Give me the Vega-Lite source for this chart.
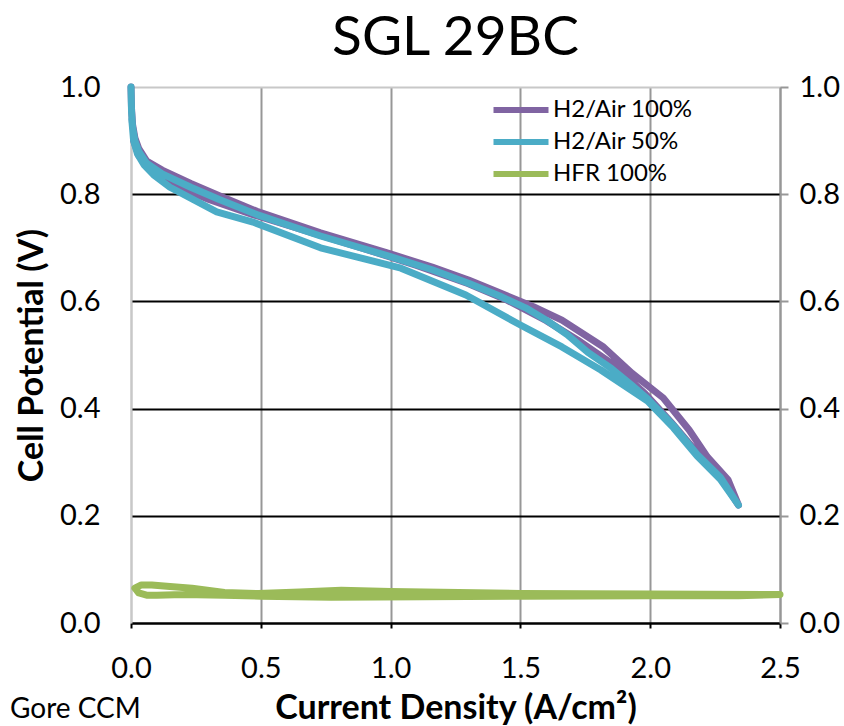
{
  "$schema": "https://vega.github.io/schema/vega-lite/v6.json",
  "width": 649,
  "height": 536,
  "autosize": {"type": "none"},
  "padding": {"left": 131, "top": 87, "right": 64, "bottom": 103},
  "background": "white",
  "title": {"text": "SGL 29BC", "font": "Lato", "fontSize": 55, "fontWeight": "normal", "color": "black", "anchor": "middle", "offset": 6},
  "config": {"view": {"stroke": null}, "font": "Lato"},
  "datasets": {
    "pol": [
      {"series": "H2/Air 100%", "i": 1, "j": 0, "v": 1.0},
      {"series": "H2/Air 100%", "i": 2, "j": 0.002, "v": 0.96},
      {"series": "H2/Air 100%", "i": 3, "j": 0.006, "v": 0.93},
      {"series": "H2/Air 100%", "i": 4, "j": 0.015, "v": 0.905},
      {"series": "H2/Air 100%", "i": 5, "j": 0.03, "v": 0.885},
      {"series": "H2/Air 100%", "i": 6, "j": 0.06, "v": 0.862},
      {"series": "H2/Air 100%", "i": 7, "j": 0.12, "v": 0.845},
      {"series": "H2/Air 100%", "i": 8, "j": 0.23, "v": 0.82},
      {"series": "H2/Air 100%", "i": 9, "j": 0.34, "v": 0.797},
      {"series": "H2/Air 100%", "i": 10, "j": 0.485, "v": 0.768},
      {"series": "H2/Air 100%", "i": 11, "j": 0.73, "v": 0.728},
      {"series": "H2/Air 100%", "i": 12, "j": 0.99, "v": 0.69},
      {"series": "H2/Air 100%", "i": 13, "j": 1.16, "v": 0.664},
      {"series": "H2/Air 100%", "i": 14, "j": 1.3, "v": 0.64},
      {"series": "H2/Air 100%", "i": 15, "j": 1.42, "v": 0.616},
      {"series": "H2/Air 100%", "i": 16, "j": 1.55, "v": 0.59},
      {"series": "H2/Air 100%", "i": 17, "j": 1.66, "v": 0.565},
      {"series": "H2/Air 100%", "i": 18, "j": 1.82, "v": 0.515},
      {"series": "H2/Air 100%", "i": 19, "j": 1.93, "v": 0.466},
      {"series": "H2/Air 100%", "i": 20, "j": 2.05, "v": 0.42},
      {"series": "H2/Air 100%", "i": 21, "j": 2.15, "v": 0.36},
      {"series": "H2/Air 100%", "i": 22, "j": 2.22, "v": 0.31},
      {"series": "H2/Air 100%", "i": 23, "j": 2.3, "v": 0.267},
      {"series": "H2/Air 100%", "i": 24, "j": 2.34, "v": 0.22},
      {"series": "H2/Air 100%", "i": 25, "j": 2.28, "v": 0.265},
      {"series": "H2/Air 100%", "i": 26, "j": 2.18, "v": 0.318},
      {"series": "H2/Air 100%", "i": 27, "j": 2.08, "v": 0.375},
      {"series": "H2/Air 100%", "i": 28, "j": 1.98, "v": 0.428},
      {"series": "H2/Air 100%", "i": 29, "j": 1.85, "v": 0.485},
      {"series": "H2/Air 100%", "i": 30, "j": 1.72, "v": 0.528},
      {"series": "H2/Air 100%", "i": 31, "j": 1.6, "v": 0.564},
      {"series": "H2/Air 100%", "i": 32, "j": 1.45, "v": 0.602},
      {"series": "H2/Air 100%", "i": 33, "j": 1.3, "v": 0.633},
      {"series": "H2/Air 100%", "i": 34, "j": 1.1, "v": 0.667},
      {"series": "H2/Air 100%", "i": 35, "j": 0.9, "v": 0.698},
      {"series": "H2/Air 100%", "i": 36, "j": 0.7, "v": 0.728},
      {"series": "H2/Air 100%", "i": 37, "j": 0.47, "v": 0.762},
      {"series": "H2/Air 100%", "i": 38, "j": 0.3, "v": 0.79},
      {"series": "H2/Air 100%", "i": 39, "j": 0.15, "v": 0.82},
      {"series": "H2/Air 100%", "i": 40, "j": 0.07, "v": 0.848},
      {"series": "H2/Air 100%", "i": 41, "j": 0.03, "v": 0.872},
      {"series": "H2/Air 100%", "i": 42, "j": 0.01, "v": 0.9},
      {"series": "H2/Air 50%", "i": 1, "j": 0, "v": 1.0},
      {"series": "H2/Air 50%", "i": 2, "j": 0.002, "v": 0.955},
      {"series": "H2/Air 50%", "i": 3, "j": 0.006, "v": 0.925},
      {"series": "H2/Air 50%", "i": 4, "j": 0.015, "v": 0.9},
      {"series": "H2/Air 50%", "i": 5, "j": 0.03, "v": 0.88},
      {"series": "H2/Air 50%", "i": 6, "j": 0.06, "v": 0.858},
      {"series": "H2/Air 50%", "i": 7, "j": 0.12, "v": 0.838},
      {"series": "H2/Air 50%", "i": 8, "j": 0.23, "v": 0.813},
      {"series": "H2/Air 50%", "i": 9, "j": 0.34, "v": 0.79},
      {"series": "H2/Air 50%", "i": 10, "j": 0.485, "v": 0.762},
      {"series": "H2/Air 50%", "i": 11, "j": 0.73, "v": 0.722},
      {"series": "H2/Air 50%", "i": 12, "j": 0.99, "v": 0.685},
      {"series": "H2/Air 50%", "i": 13, "j": 1.16, "v": 0.659},
      {"series": "H2/Air 50%", "i": 14, "j": 1.3, "v": 0.634},
      {"series": "H2/Air 50%", "i": 15, "j": 1.42, "v": 0.61},
      {"series": "H2/Air 50%", "i": 16, "j": 1.52, "v": 0.588},
      {"series": "H2/Air 50%", "i": 17, "j": 1.6, "v": 0.565},
      {"series": "H2/Air 50%", "i": 18, "j": 1.68, "v": 0.538},
      {"series": "H2/Air 50%", "i": 19, "j": 1.76, "v": 0.505},
      {"series": "H2/Air 50%", "i": 20, "j": 1.85, "v": 0.475},
      {"series": "H2/Air 50%", "i": 21, "j": 1.93, "v": 0.443},
      {"series": "H2/Air 50%", "i": 22, "j": 1.99, "v": 0.418},
      {"series": "H2/Air 50%", "i": 23, "j": 2.09, "v": 0.368},
      {"series": "H2/Air 50%", "i": 24, "j": 2.18, "v": 0.315},
      {"series": "H2/Air 50%", "i": 25, "j": 2.27, "v": 0.272},
      {"series": "H2/Air 50%", "i": 26, "j": 2.34, "v": 0.22},
      {"series": "H2/Air 50%", "i": 27, "j": 2.27, "v": 0.268},
      {"series": "H2/Air 50%", "i": 28, "j": 2.18, "v": 0.312},
      {"series": "H2/Air 50%", "i": 29, "j": 2.09, "v": 0.364},
      {"series": "H2/Air 50%", "i": 30, "j": 1.99, "v": 0.414},
      {"series": "H2/Air 50%", "i": 31, "j": 1.81, "v": 0.472},
      {"series": "H2/Air 50%", "i": 32, "j": 1.66, "v": 0.515},
      {"series": "H2/Air 50%", "i": 33, "j": 1.5, "v": 0.556},
      {"series": "H2/Air 50%", "i": 34, "j": 1.29, "v": 0.612},
      {"series": "H2/Air 50%", "i": 35, "j": 1.04, "v": 0.662},
      {"series": "H2/Air 50%", "i": 36, "j": 0.73, "v": 0.7},
      {"series": "H2/Air 50%", "i": 37, "j": 0.47, "v": 0.748},
      {"series": "H2/Air 50%", "i": 38, "j": 0.33, "v": 0.767},
      {"series": "H2/Air 50%", "i": 39, "j": 0.15, "v": 0.813},
      {"series": "H2/Air 50%", "i": 40, "j": 0.09, "v": 0.835},
      {"series": "H2/Air 50%", "i": 41, "j": 0.05, "v": 0.855},
      {"series": "H2/Air 50%", "i": 42, "j": 0.025, "v": 0.875},
      {"series": "H2/Air 50%", "i": 43, "j": 0.01, "v": 0.9},
      {"series": "H2/Air 50%", "i": 44, "j": 0.003, "v": 0.94}
    ],
    "hfr": [
      {"series": "HFR 100%", "i": 1, "j": 0.015, "v": 0.065},
      {"series": "HFR 100%", "i": 2, "j": 0.04, "v": 0.071},
      {"series": "HFR 100%", "i": 3, "j": 0.08, "v": 0.071},
      {"series": "HFR 100%", "i": 4, "j": 0.15, "v": 0.068},
      {"series": "HFR 100%", "i": 5, "j": 0.235, "v": 0.065},
      {"series": "HFR 100%", "i": 6, "j": 0.36, "v": 0.057},
      {"series": "HFR 100%", "i": 7, "j": 0.49, "v": 0.055},
      {"series": "HFR 100%", "i": 8, "j": 0.65, "v": 0.058},
      {"series": "HFR 100%", "i": 9, "j": 0.81, "v": 0.061},
      {"series": "HFR 100%", "i": 10, "j": 1.0, "v": 0.059},
      {"series": "HFR 100%", "i": 11, "j": 1.13, "v": 0.058},
      {"series": "HFR 100%", "i": 12, "j": 1.5, "v": 0.055},
      {"series": "HFR 100%", "i": 13, "j": 2.0, "v": 0.054},
      {"series": "HFR 100%", "i": 14, "j": 2.5, "v": 0.053},
      {"series": "HFR 100%", "i": 15, "j": 2.34, "v": 0.051},
      {"series": "HFR 100%", "i": 16, "j": 2.0, "v": 0.051},
      {"series": "HFR 100%", "i": 17, "j": 1.5, "v": 0.05},
      {"series": "HFR 100%", "i": 18, "j": 1.13, "v": 0.049},
      {"series": "HFR 100%", "i": 19, "j": 0.77, "v": 0.048},
      {"series": "HFR 100%", "i": 20, "j": 0.5, "v": 0.05},
      {"series": "HFR 100%", "i": 21, "j": 0.36, "v": 0.052},
      {"series": "HFR 100%", "i": 22, "j": 0.2, "v": 0.053},
      {"series": "HFR 100%", "i": 23, "j": 0.1, "v": 0.052},
      {"series": "HFR 100%", "i": 24, "j": 0.06, "v": 0.052},
      {"series": "HFR 100%", "i": 25, "j": 0.03, "v": 0.056},
      {"series": "HFR 100%", "i": 26, "j": 0.015, "v": 0.065}
    ],
    "notes": [
      {"note": "Gore CCM"}
    ]
  },
  "layer": [
    {
      "data": {"name": "pol"},
      "mark": {"type": "line", "strokeWidth": 7, "strokeCap": "round", "strokeJoin": "round"},
      "encoding": {
        "x": {
          "field": "j", "type": "quantitative",
          "scale": {"domain": [0, 2.5], "nice": false, "zero": false},
          "axis": {
            "values": [0, 0.5, 1, 1.5, 2, 2.5], "format": ".1f", "labelFlush": false, "labelOverlap": false,
            "labelFont": "Lato", "labelFontSize": 29, "labelColor": "black", "labelPadding": 26,
            "ticks": true, "tickSize": 5, "tickColor": "black", "tickWidth": 2,
            "domain": true, "domainColor": "black", "domainWidth": 2,
            "grid": true, "gridWidth": 2,
            "gridColor": {"condition": {"test": "datum.value == 0", "value": "#c8c8c8"}, "value": "#979797"},
            "title": "Current Density (A/cm²)", "titleFont": "Lato", "titleFontSize": 34, "titleFontWeight": "bold", "titleColor": "black",
            "titlePadding": 8
          }
        },
        "y": {
          "field": "v", "type": "quantitative",
          "scale": {"domain": [0, 1], "nice": false},
          "axis": {
            "orient": "left", "values": [0, 0.2, 0.4, 0.6, 0.8, 1.0], "format": ".1f", "labelFlush": false, "labelOverlap": false,
            "labelFont": "Lato", "labelFontSize": 29, "labelColor": "black", "labelPadding": 31,
            "ticks": false,
            "domain": true, "domainColor": "#c8c8c8", "domainWidth": 2,
            "grid": true, "gridWidth": 2,
            "gridColor": {"condition": {"test": "datum.value == 1", "value": "#c8c8c8"}, "value": "black"},
            "title": "Cell Potential (V)", "titleFont": "Lato", "titleFontSize": 34, "titleFontWeight": "bold", "titleColor": "black",
            "titlePadding": 10
          }
        },
        "color": {
          "field": "series", "type": "nominal",
          "scale": {"domain": ["H2/Air 100%", "H2/Air 50%", "HFR 100%"], "range": ["#8064A2", "#4BACC6", "#9BBB59"]},
          "legend": {
            "orient": "none", "legendX": 378, "legendY": 11, "title": null,
            "symbolType": "M-5,0H5", "symbolSize": 121, "symbolStrokeWidth": 6,
            "labelFont": "Lato", "labelFontSize": 24, "labelColor": "black", "labelOffset": 20,
            "rowPadding": 8
          }
        },
        "order": {"field": "i", "type": "quantitative"}
      }
    },
    {
      "data": {"name": "hfr"},
      "mark": {"type": "line", "strokeWidth": 7, "strokeCap": "round", "strokeJoin": "round"},
      "encoding": {
        "x": {"field": "j", "type": "quantitative"},
        "y": {
          "field": "v", "type": "quantitative",
          "axis": {
            "orient": "right", "values": [0, 0.2, 0.4, 0.6, 0.8, 1.0], "format": ".1f", "labelFlush": false, "labelOverlap": false,
            "labelFont": "Lato", "labelFontSize": 29, "labelColor": "black", "labelPadding": 11,
            "ticks": true, "tickSize": 8, "tickColor": "#979797", "tickWidth": 2,
            "domain": true, "domainColor": "#979797", "domainWidth": 2,
            "grid": false, "title": null
          }
        },
        "color": {"field": "series", "type": "nominal"},
        "order": {"field": "i", "type": "quantitative"}
      }
    },
    {
      "data": {"name": "notes"},
      "mark": {"type": "text", "font": "Lato", "fontSize": 28, "align": "left", "baseline": "top", "color": "black"},
      "encoding": {
        "x": {"datum": -0.466, "type": "quantitative"},
        "y": {"datum": -0.137, "type": "quantitative", "axis": null},
        "text": {"field": "note", "type": "nominal"}
      }
    }
  ],
  "resolve": {"axis": {"y": "independent"}}
}
